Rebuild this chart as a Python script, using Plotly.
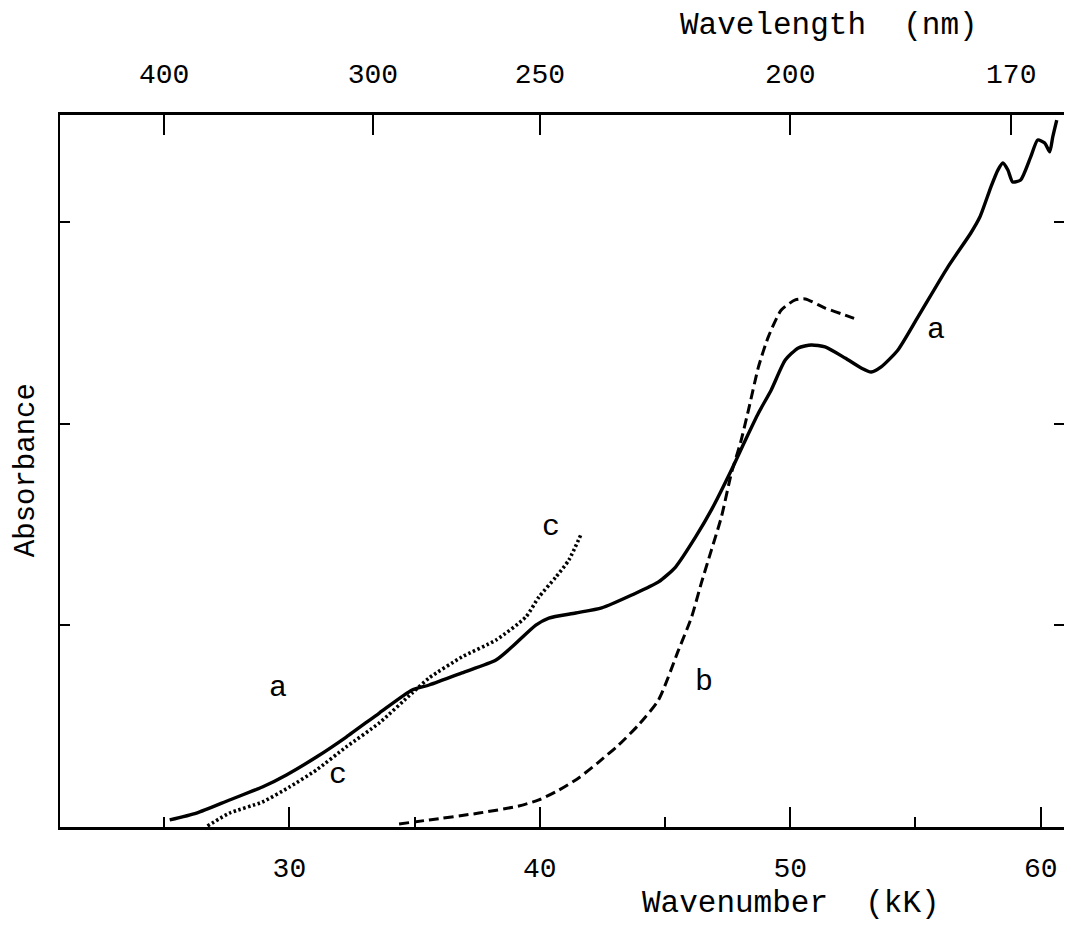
import plotly.graph_objects as go

# Curve a (solid)
a_k = [25.22, 26.29, 27.61, 28.92, 29.88, 31.08, 32.27, 33.59, 34.90, 35.58, 36.89, 38.25, 38.88,
       39.84, 40.36, 41.43, 42.47, 43.67, 44.74, 45.42, 46.22, 46.85, 47.65, 48.21, 48.73, 49.24,
       49.80, 50.32, 50.84, 51.39, 52.19, 52.83, 53.23, 53.63, 54.30, 55.10, 56.29, 57.21, 57.57,
       58.01, 58.29, 58.49, 58.69, 58.88, 59.20, 59.60, 59.88, 60.16, 60.36, 60.48, 60.64]
a_A = [0.035, 0.069, 0.134, 0.198, 0.258, 0.347, 0.446, 0.565, 0.679, 0.704, 0.764, 0.828, 0.892,
       1.001, 1.036, 1.061, 1.086, 1.150, 1.215, 1.289, 1.438, 1.572, 1.770, 1.919, 2.053, 2.167,
       2.315, 2.375, 2.390, 2.380, 2.325, 2.276, 2.256, 2.281, 2.365, 2.529, 2.776, 2.945, 3.024,
       3.173, 3.257, 3.292, 3.257, 3.198, 3.208, 3.322, 3.406, 3.391, 3.347, 3.421, 3.505]

# Curve b (dashed)
b_k = [34.38, 35.58, 37.57, 39.16, 39.96, 40.76, 41.55, 42.35, 43.15, 43.94, 44.74, 45.54, 46.06,
       46.45, 46.85, 47.25, 47.65, 48.01, 48.33, 48.73, 49.12, 49.64, 50.20, 50.60, 51.39, 52.19, 52.71]
b_A = [0.015, 0.035, 0.069, 0.104, 0.134, 0.183, 0.243, 0.322, 0.407, 0.506, 0.630, 0.878, 1.041,
       1.210, 1.373, 1.537, 1.755, 1.904, 2.067, 2.281, 2.429, 2.563, 2.613, 2.618, 2.573, 2.538, 2.514]

# Curve c (dotted)
c_k = [26.73, 27.61, 28.92, 30.00, 31.08, 32.27, 33.59, 34.90, 35.58, 36.89, 38.25, 39.44, 39.96,
       40.64, 41.16, 41.67]
c_A = [0.005, 0.069, 0.124, 0.198, 0.283, 0.397, 0.516, 0.664, 0.739, 0.843, 0.927, 1.041, 1.140,
       1.239, 1.324, 1.458]

# Curve labels
lab_text = ["a", "c", "c", "b", "a"]
lab_k = [29.56, 31.95, 40.44, 46.57, 55.82]
lab_A = [0.689, 0.258, 1.487, 0.719, 2.464]

# Axes
x_range = [20.84, 60.93]
y_range = [0, 3.53]
bottom_ticks = [30, 40, 50, 60]
bottom_minor = [25, 35, 45, 55]
top_nm = [400, 300, 250, 200, 170]
y_ticks = [1, 2, 3]

FONT = "Liberation Mono"
fig = go.Figure()
fig.add_trace(go.Scatter(x=a_k, y=a_A, mode="lines",
                         line=dict(color="black", width=3.4, shape="spline", smoothing=0.6)))
fig.add_trace(go.Scatter(x=b_k, y=b_A, mode="lines",
                         line=dict(color="black", width=3, dash="10px,5px", shape="spline", smoothing=0.6)))
fig.add_trace(go.Scatter(x=c_k, y=c_A, mode="lines",
                         line=dict(color="black", width=3.6, dash="2.5px,2.5px", shape="spline", smoothing=0.6)))
fig.add_trace(go.Scatter(x=x_range, y=[None, None], xaxis="x2", mode="lines",
                         showlegend=False, hoverinfo="skip"))

for t, k, A in zip(lab_text, lab_k, lab_A):
    fig.add_annotation(x=k, y=A, text=t, showarrow=False, xanchor="center", yanchor="middle",
                       font=dict(family=FONT, size=30, color="black"))

fig.add_annotation(xref="paper", yref="paper", x=0.766, y=1.126, text="Wavelength\u00a0\u00a0(nm)",
                   showarrow=False, xanchor="center", yanchor="middle",
                   font=dict(family=FONT, size=31, color="black"))
fig.add_annotation(xref="paper", yref="paper", x=0.728, y=-0.108, text="Wavenumber\u00a0\u00a0(kK)",
                   showarrow=False, xanchor="center", yanchor="middle",
                   font=dict(family=FONT, size=31, color="black"))
fig.add_annotation(xref="paper", yref="paper", x=-0.034, y=0.501, text="Absorbance", textangle=-90,
                   showarrow=False, xanchor="center", yanchor="middle",
                   font=dict(family=FONT, size=29, color="black"))

fig.update_layout(
    width=1064, height=926,
    margin=dict(l=52, r=6, t=107, b=107),
    plot_bgcolor="white", paper_bgcolor="white",
    showlegend=False,
    font=dict(family=FONT, size=28, color="black"),
    xaxis=dict(range=x_range, tickvals=bottom_ticks, ticks="inside", ticklen=20, tickwidth=2,
               tickcolor="black", showline=True, linewidth=3, linecolor="black", showgrid=False,
               zeroline=False, ticklabelstandoff=13, tickfont=dict(family=FONT, size=28),
               minor=dict(tickvals=bottom_minor, ticks="inside", ticklen=10, tickwidth=2, tickcolor="black")),
    xaxis2=dict(range=x_range, overlaying="x", side="top", anchor="y",
                tickvals=[1e4 / n for n in top_nm], ticktext=[str(n) for n in top_nm],
                ticks="inside", ticklen=20, tickwidth=2, tickcolor="black", showline=True, linewidth=3,
                linecolor="black", showgrid=False, zeroline=False, ticklabelstandoff=18,
                tickfont=dict(family=FONT, size=28)),
    yaxis=dict(range=y_range, tickvals=y_ticks, showticklabels=False, ticks="inside", ticklen=10,
               tickwidth=2, tickcolor="black", showline=True, linewidth=1.5, linecolor="black",
               mirror="ticks", showgrid=False, zeroline=False),
)

fig.write_html("out.html")
